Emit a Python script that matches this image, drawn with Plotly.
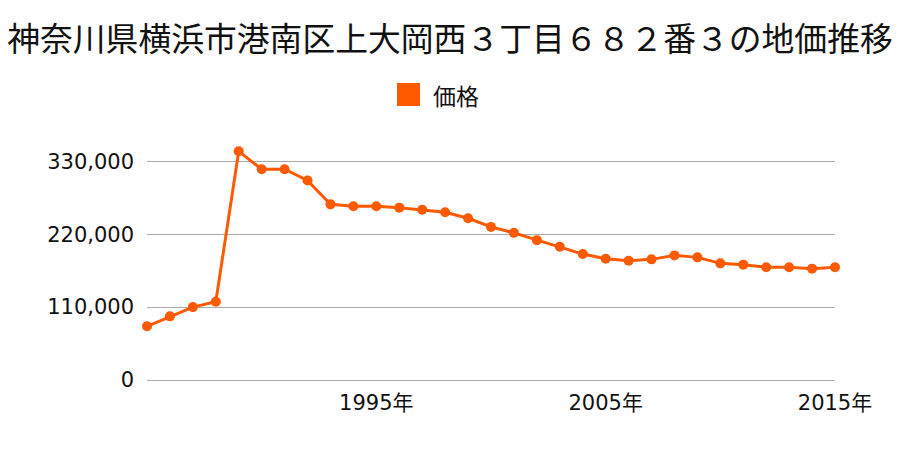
import plotly.graph_objects as go

title_text = "神奈川県横浜市港南区上大岡西３丁目６８２番３の地価推移"
series_name = "価格"
years = list(range(1985, 2016))
prices = [81000, 96000, 110000, 118000, 345000, 318000, 318000, 301000, 265000, 262000,
          262000, 260000, 257000, 253000, 244000, 231000, 222000, 211000, 201000, 190000,
          183000, 180000, 182000, 188000, 185000, 176000, 174000, 170000, 170000, 168000, 170000]
x_tick_vals = [1995, 2005, 2015]
x_tick_text = ["1995年", "2005年", "2015年"]
y_tick_vals = [0, 110000, 220000, 330000]
y_tick_text = ["0", "110,000", "220,000", "330,000"]

color = "#ff5a00"
tick_font = dict(family="DejaVu Sans, Noto Sans CJK JP", size=21, color="#111111")

fig = go.Figure()
fig.add_trace(go.Scatter(
    x=years, y=prices, mode="lines+markers", name=series_name,
    line=dict(color=color, width=3),
    marker=dict(color=color, size=10),
    cliponaxis=False, showlegend=False,
))

fig.update_layout(
    width=900, height=450,
    margin=dict(l=147, r=65, t=148, b=70),
    paper_bgcolor="white", plot_bgcolor="white",
    showlegend=False,
    title=dict(text=title_text, x=0.5, xanchor="center", y=1 - 40 / 450, yanchor="middle",
               font=dict(family="Noto Sans CJK JP", size=32.8, color="#111111")),
    xaxis=dict(range=[1985, 2015], tickvals=x_tick_vals, ticktext=x_tick_text,
               showgrid=False, zeroline=False, showline=False, ticks="",
               tickfont=tick_font, ticklabelstandoff=8),
    yaxis=dict(range=[0, 350000], tickvals=y_tick_vals, ticktext=y_tick_text,
               showgrid=True, gridcolor="#aaaaaa", gridwidth=1,
               zeroline=True, zerolinecolor="#aaaaaa", zerolinewidth=1,
               showline=False, ticks="",
               tickfont=tick_font, ticklabelstandoff=12),
    shapes=[dict(type="rect", xref="paper", yref="paper",
                 x0=(397 - 147) / 688, x1=(420 - 147) / 688,
                 y0=(380 - 106) / 232, y1=(380 - 83) / 232,
                 fillcolor=color, line=dict(width=0))],
    annotations=[dict(text=series_name, xref="paper", yref="paper",
                      x=(431 - 147) / 688, y=(380 - 95) / 232,
                      xanchor="left", yanchor="middle", showarrow=False,
                      font=dict(family="Noto Sans CJK JP", size=23, color="#111111"))],
)

fig.write_html("out.html")
